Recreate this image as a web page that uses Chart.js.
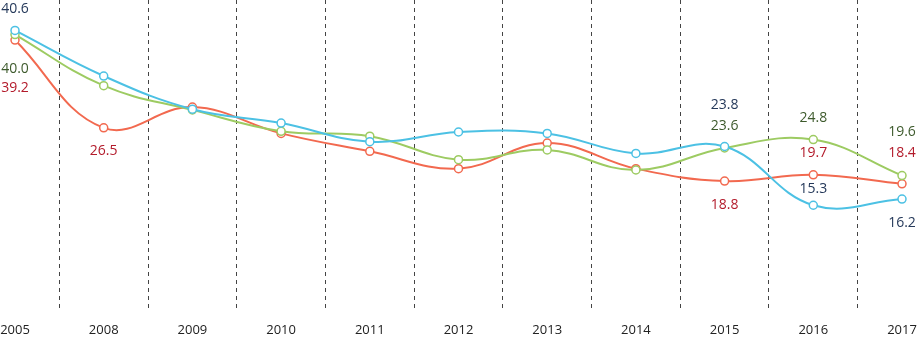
<!DOCTYPE html>
<html>
<head>
<meta charset="utf-8">
<script src="https://cdn.jsdelivr.net/npm/chart.js@4/dist/chart.umd.min.js"></script>
<style>
    html, body { margin: 0; padding: 0; background: #fff; }
    #wrap { width: 919px; height: 338px; }
</style>
</head>
<body>
<div id="wrap"><canvas id="chart"></canvas></div>
<script>
const years = ['2005', '2008', '2009', '2010', '2011', '2012', '2013', '2014', '2015', '2016', '2017'];

const blueValues  = [40.6, 34.0, 29.2, 27.2, 24.5, 25.9, 25.7, 22.8, 23.8, 15.3, 16.2];
const greenValues = [40.0, 32.6, 29.1, 26.0, 25.3, 21.9, 23.3, 20.4, 23.6, 24.8, 19.6];
const redValues   = [39.2, 26.5, 29.5, 25.7, 23.1, 20.6, 24.3, 20.6, 18.8, 19.7, 18.4];

// which points get a value label
const blueLabelled  = [0, 8, 9, 10];
const greenLabelled = [0, 8, 9, 10];
const redLabelled   = [0, 1, 8, 9, 10];

// label placement (px from the point, up is negative)
const labelOffsets = {
    0: { 0: -21, 8: -41, 9: -16, 10: 24 },
    1: { 0: 34, 8: -22, 9: -22, 10: -44 },
    2: { 0: 48, 1: 23, 8: 24, 9: -22, 10: -31 }
};

const labelColors = ['#25395a', '#3d5a2c', '#b31b2b'];

const valueLabels = {
    id: 'valueLabels',
    afterDatasetsDraw(chart) {
        const ctx = chart.ctx;
        const x = chart.scales.x;
        const y = chart.scales.y;
        ctx.save();
        ctx.font = '14px "Open Sans", sans-serif';
        ctx.textAlign = 'center';
        ctx.textBaseline = 'middle';
        chart.data.datasets.forEach(function (ds, di) {
            ds.labelled.forEach(function (i) {
                const px = x.getPixelForValue(i);
                const py = y.getPixelForValue(ds.data[i]);
                ctx.fillStyle = labelColors[di];
                ctx.fillText(ds.data[i].toFixed(1), px, py + labelOffsets[di][i]);
            });
        });
        ctx.restore();
    }
};

function line(label, data, color, labelled) {
    return {
        label: label,
        data: data,
        labelled: labelled,
        borderColor: color,
        backgroundColor: '#ffffff',
        borderWidth: 2,
        pointRadius: 4,
        pointBorderWidth: 1.5,
        pointBackgroundColor: '#ffffff',
        pointBorderColor: color,
        tension: 0.4,
        fill: false,
        clip: false
    };
}

new Chart(document.getElementById('chart'), {
    type: 'line',
    data: {
        labels: years,
        datasets: [
            line('blue', blueValues, '#4cc1e4', blueLabelled),
            line('green', greenValues, '#9dcb62', greenLabelled),
            line('red', redValues, '#f2694f', redLabelled)
        ]
    },
    options: {
        responsive: true,
        maintainAspectRatio: false,
        animation: false,
        layout: { autoPadding: false, padding: { top: 0, bottom: 0, left: 15, right: 17 } },
        plugins: {
            legend: { display: false },
            tooltip: { enabled: false }
        },
        scales: {
            x: {
                offset: false,
                afterFit: function (scale) {
                    scale.paddingLeft = 0;
                    scale.paddingRight = 0;
                    scale.height = 27;
                },
                grid: {
                    offset: true,
                    color: '#444',
                    lineWidth: 1,
                    drawTicks: false
                },
                border: { display: false, dash: [4, 4] },
                ticks: {
                    color: '#222',
                    padding: 11,
                    maxRotation: 0,
                    autoSkip: false,
                    font: { family: '"Open Sans", sans-serif', size: 13 }
                }
            },
            y: {
                display: false,
                min: 0,
                max: 45
            }
        }
    },
    plugins: [valueLabels]
});
</script>
</body>
</html>
